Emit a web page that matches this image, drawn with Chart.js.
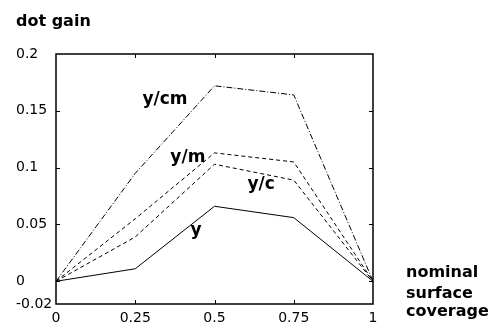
<!DOCTYPE html>
<html>
<head>
<meta charset="utf-8">
<script src="https://cdn.jsdelivr.net/npm/chart.js@4.4.0/dist/chart.umd.min.js"></script>
<style>
  html, body { margin: 0; padding: 0; background: #fff; }
  #wrap { width: 496px; height: 327px; }
</style>
</head>
<body>
<div id="wrap"><canvas id="gain"></canvas></div>
<script>
// nominal surface coverage vs dot gain
const coverage = [0, 0.25, 0.5, 0.75, 1];
const gainY   = [0, 0.011, 0.066, 0.056, 0];
const gainYC  = [0, 0.039, 0.103, 0.089, 0];
const gainYM  = [0, 0.055, 0.113, 0.105, 0];
const gainYCM = [0, 0.095, 0.172, 0.164, 0];
const seriesNames = ['y', 'y/c', 'y/m', 'y/cm'];

const xTicks = [0, 0.25, 0.5, 0.75, 1];
const xTickLabels = ['0', '0.25', '0.5', '0.75', '1'];
const yTicks = [-0.02, 0, 0.05, 0.1, 0.15, 0.2];
const yTickLabels = ['-0.02', '0', '0.05', '0.1', '0.15', '0.2'];

// where the curve names sit (data coords)
const labelX = [0.442, 0.647, 0.416, 0.344];
const labelY = [0.041, 0.081, 0.105, 0.156];

const allGains = [gainY, gainYC, gainYM, gainYCM];
const dashes = [[], [4, 3], [4, 3], [6, 2, 1, 2]];

function toPoints(vals) {
  return coverage.map((c, i) => ({ x: c, y: vals[i] }));
}

const boldFont = 'bold 16px "DejaVu Sans"';

const frame = {
  id: 'frame',
  afterDatasetsDraw(chart) {
    const ctx = chart.ctx;
    const a = chart.chartArea;
    const xs = chart.scales.x, ys = chart.scales.y;
    ctx.save();
    ctx.strokeStyle = '#000';
    ctx.lineWidth = 1.5;
    ctx.setLineDash([]);
    ctx.strokeRect(a.left, a.top, a.right - a.left, a.bottom - a.top);
    ctx.lineWidth = 1;
    ctx.beginPath();
    xTicks.slice(1, -1).forEach(v => {
      const px = Math.round(xs.getPixelForValue(v)) + 0.5;
      ctx.moveTo(px, a.top); ctx.lineTo(px, a.top + 4);
      ctx.moveTo(px, a.bottom); ctx.lineTo(px, a.bottom - 4);
    });
    yTicks.slice(1, -1).forEach(v => {
      const py = Math.round(ys.getPixelForValue(v)) + 0.5;
      ctx.moveTo(a.left, py); ctx.lineTo(a.left + 4, py);
      ctx.moveTo(a.right, py); ctx.lineTo(a.right - 4, py);
    });
    ctx.stroke();

    ctx.fillStyle = '#000';
    ctx.font = boldFont;
    ctx.textAlign = 'left';
    ctx.textBaseline = 'alphabetic';
    ctx.fillText('dot gain', 16, 26);
    ctx.fillText('nominal', 406, 277);
    ctx.fillText('surface', 406, 298);
    ctx.fillText('coverage', 406, 316);

    ctx.font = 'bold 17px "DejaVu Sans"';
    ctx.textAlign = 'center';
    seriesNames.forEach((n, i) => {
      ctx.fillText(n, xs.getPixelForValue(labelX[i]), ys.getPixelForValue(labelY[i]));
    });
    ctx.restore();
  }
};

const tickFont = { family: 'DejaVu Sans', size: 14 };

new Chart(document.getElementById('gain'), {
  type: 'line',
  data: {
    datasets: seriesNames.map((n, i) => ({
      label: n,
      data: toPoints(allGains[i]),
      borderColor: '#000',
      borderWidth: 1,
      borderDash: dashes[i],
      pointRadius: 0,
      fill: false,
      tension: 0
    }))
  },
  options: {
    responsive: true,
    maintainAspectRatio: false,
    animation: false,
    devicePixelRatio: 1,
    layout: { padding: { left: 16, top: 54, right: 123, bottom: 0 } },
    plugins: { legend: { display: false }, tooltip: { enabled: false } },
    scales: {
      x: {
        type: 'linear',
        min: 0,
        max: 1,
        afterBuildTicks: s => { s.ticks = xTicks.map(v => ({ value: v })); },
        afterFit: s => { s.height = 23; },
        ticks: {
          callback: (v, i) => xTickLabels[i],
          font: tickFont,
          color: '#000',
          padding: 6,
          maxRotation: 0,
          autoSkip: false
        },
        grid: { display: false, drawTicks: false },
        border: { display: false }
      },
      y: {
        type: 'linear',
        min: -0.02,
        max: 0.2,
        afterBuildTicks: s => { s.ticks = yTicks.map(v => ({ value: v })); },
        afterFit: s => { s.width = 40; },
        ticks: {
          callback: (v, i) => yTickLabels[i],
          font: tickFont,
          color: '#000',
          crossAlign: 'far',
          autoSkip: false
        },
        grid: { display: false, drawTicks: false },
        border: { display: false }
      }
    }
  },
  plugins: [frame]
});
</script>
</body>
</html>
